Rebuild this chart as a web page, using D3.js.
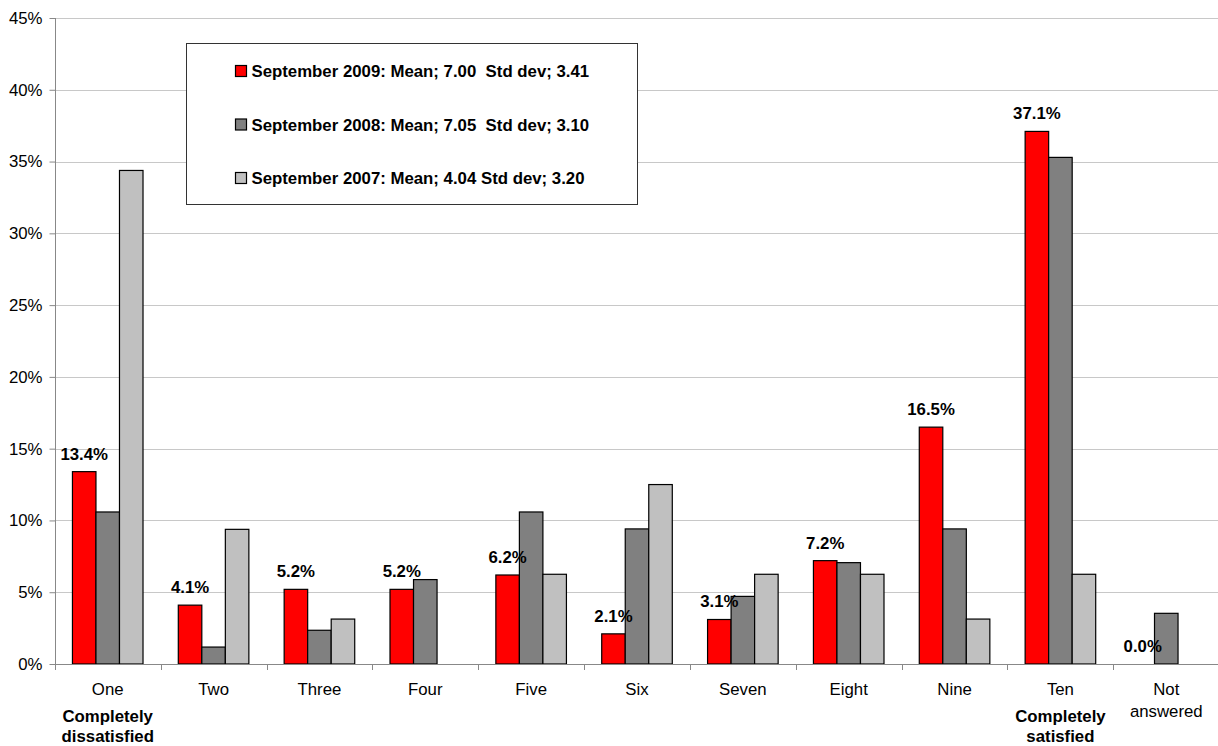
<!DOCTYPE html>
<html>
<head>
<meta charset="utf-8">
<script src="https://cdn.jsdelivr.net/npm/d3@7"></script>
<style>
  html, body { margin: 0; padding: 0; background: #fff; }
  svg { display: block; font-family: "Liberation Sans", Arial, sans-serif; }
</style>
</head>
<body>
<svg id="chart" width="1218" height="746"></svg>
<script>
// Satisfaction rating, share of respondents per score
const categories = ["One", "Two", "Three", "Four", "Five", "Six", "Seven", "Eight", "Nine", "Ten", "Not answered"];
const sep2009 = [13.4, 4.1, 5.2, 5.2, 6.2, 2.1, 3.1, 7.2, 16.5, 37.1, 0.0];
const sep2008 = [10.59, 1.18, 2.35, 5.88, 10.59, 9.41, 4.71, 7.06, 9.41, 35.29, 3.53];
const sep2007 = [34.38, 9.38, 3.13, 0, 6.25, 12.5, 6.25, 6.25, 3.13, 6.25, 0];
const seriesNames = [
  "September 2009: Mean; 7.00  Std dev; 3.41",
  "September 2008: Mean; 7.05  Std dev; 3.10",
  "September 2007: Mean; 4.04 Std dev; 3.20"
];
const seriesColors = ["#ff0000", "#808080", "#c0c0c0"];
const yTicks = [0, 5, 10, 15, 20, 25, 30, 35, 40, 45];
// second line of some category labels
const categoryNotes = { "One": ["Completely", "dissatisfied"], "Ten": ["Completely", "satisfied"] };

(function () {
const series = [sep2009, sep2008, sep2007];
const FONT = 16.8;

const svg = d3.select("#chart");
const plotLeft = 54.8, plotRight = 1219.2, plotTop = 18, plotBottom = 664;

const x0 = d3.scaleBand().domain(categories).range([plotLeft, plotRight]).padding(0);
const step = x0.step();
const bw = step / 4.5;   // gap of 150% of a bar width
const x1 = d3.scaleBand().domain([0, 1, 2]).range([bw * 0.75, bw * 3.75]).padding(0);
const y = d3.scaleLinear().domain([0, 45]).range([plotBottom, plotTop]);

// gridlines
svg.append("g")
  .selectAll("line")
  .data(yTicks.filter(t => t > 0))
  .join("line")
  .attr("x1", plotLeft).attr("x2", plotRight)
  .attr("y1", d => Math.round(y(d)) + 0.5).attr("y2", d => Math.round(y(d)) + 0.5)
  .attr("stroke", "#c8c8c8").attr("stroke-width", 1);

// y axis
const yAxis = svg.append("g")
  .attr("transform", `translate(${Math.round(plotLeft) + 0.5},0)`)
  .call(d3.axisLeft(y).tickValues(yTicks).tickFormat(d => d + "%").tickSize(6).tickPadding(7));
yAxis.select(".domain").attr("stroke", "#888").attr("d", `M0,${y(45)}V${y(0)}`);
yAxis.selectAll(".tick line").attr("stroke", "#888");
yAxis.selectAll(".tick text")
  .attr("font-size", FONT).attr("fill", "#000")
  .attr("font-family", "Liberation Sans, Arial, sans-serif");

// bars
const groups = svg.append("g")
  .selectAll("g")
  .data(categories)
  .join("g")
  .attr("transform", d => `translate(${x0(d)},0)`);

groups.selectAll("rect")
  .data((c, i) => series.map((s, k) => ({ k, v: s[i] })).filter(d => d.v > 0))
  .join("rect")
  .attr("x", d => x1(d.k))
  .attr("y", d => y(d.v))
  .attr("width", x1.bandwidth())
  .attr("height", d => y(0) - y(d.v))
  .attr("fill", d => seriesColors[d.k])
  .attr("stroke", "#000")
  .attr("stroke-width", 1.2);

// value labels for the latest survey
groups.append("text")
  .attr("x", x1(0) + x1.bandwidth() / 2)
  .attr("y", (c, i) => y(sep2009[i]) - 12)
  .attr("text-anchor", "middle")
  .attr("font-size", FONT)
  .attr("font-weight", "bold")
  .text((c, i) => sep2009[i].toFixed(1) + "%");

// x axis
const xAxisG = svg.append("g");
xAxisG.append("line")
  .attr("x1", plotLeft).attr("x2", plotRight)
  .attr("y1", plotBottom + 0.5).attr("y2", plotBottom + 0.5)
  .attr("stroke", "#888");
xAxisG.selectAll("line.tick")
  .data(categories)
  .join("line")
  .attr("class", "tick")
  .attr("x1", d => Math.round(x0(d)) + 0.5).attr("x2", d => Math.round(x0(d)) + 0.5)
  .attr("y1", plotBottom).attr("y2", plotBottom + 6)
  .attr("stroke", "#888");

const catLabels = xAxisG.selectAll("g.cat")
  .data(categories)
  .join("g")
  .attr("class", "cat")
  .attr("transform", d => `translate(${x0(d) + step / 2},0)`);

catLabels.each(function (d) {
  const g = d3.select(this);
  const words = d === "Not answered" ? ["Not", "answered"] : [d];
  words.forEach((w, i) => {
    g.append("text")
      .attr("y", 694.5 + i * 22.6)
      .attr("text-anchor", "middle")
      .attr("font-size", FONT)
      .text(w);
  });
  (categoryNotes[d] || []).forEach((w, i) => {
    g.append("text")
      .attr("y", 721.5 + i * 20)
      .attr("text-anchor", "middle")
      .attr("font-size", FONT)
      .attr("font-weight", "bold")
      .text(w);
  });
});

// legend
const legend = svg.append("g");
legend.append("rect")
  .attr("x", 186.5).attr("y", 43.5)
  .attr("width", 451).attr("height", 161)
  .attr("fill", "#fff").attr("stroke", "#333").attr("stroke-width", 1);

const items = legend.selectAll("g.item")
  .data(seriesNames)
  .join("g")
  .attr("class", "item")
  .attr("transform", (d, i) => `translate(0,${71 + i * 53.5})`);
items.append("rect")
  .attr("x", 235.5).attr("y", -5.5)
  .attr("width", 11).attr("height", 11)
  .attr("fill", (d, i) => seriesColors[i])
  .attr("stroke", "#000").attr("stroke-width", 1.2);
items.append("text")
  .attr("x", 251.5).attr("y", 6)
  .attr("font-size", FONT)
  .attr("font-weight", "bold")
  .style("white-space", "pre")
  .text(d => d);
})();
</script>
</body>
</html>
